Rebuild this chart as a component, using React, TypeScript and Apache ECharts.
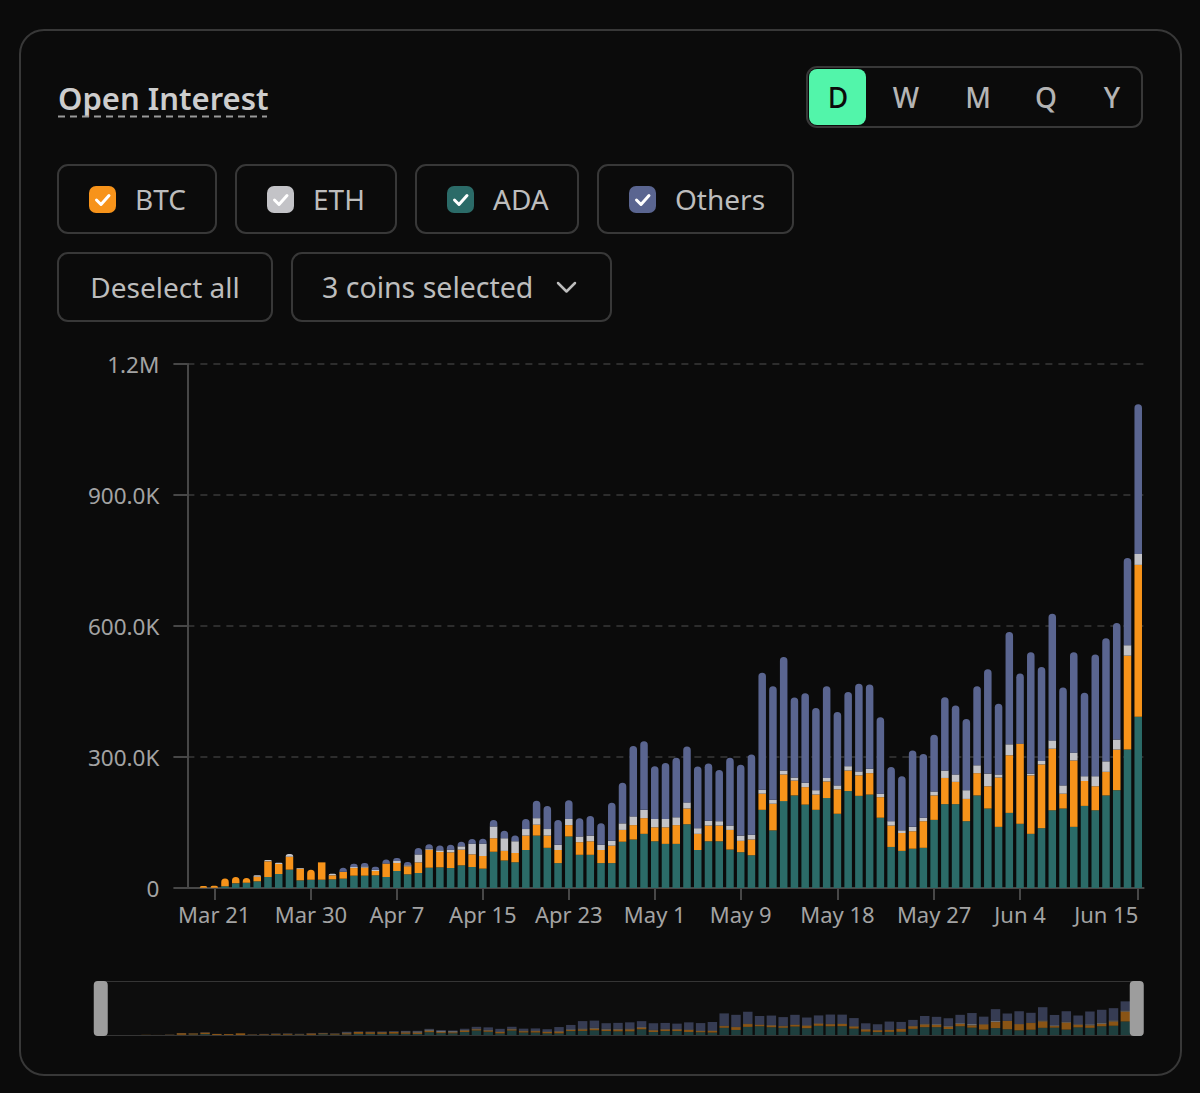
import { useEffect, useRef } from "react";
import * as echarts from "echarts";

// ---------- data ----------
const MONTHS = ["Jan", "Feb", "Mar", "Apr", "May", "Jun", "Jul", "Aug", "Sep", "Oct", "Nov", "Dec"];
const START_DATE = Date.UTC(2024, 2, 19);
const DAY_COUNT = 89;
const DATES: string[] = Array.from({ length: DAY_COUNT }, (_, i) => {
  const d = new Date(START_DATE + i * 86400000);
  return `${MONTHS[d.getUTCMonth()]} ${d.getUTCDate()}`;
});

const TICK_LABELS = ["Mar 21", "Mar 30", "Apr 7", "Apr 15", "Apr 23", "May 1", "May 9", "May 18", "May 27", "Jun 4", "Jun 15"];

// values in thousands, Mar 19 .. Jun 15
const ADA = [
  0, 0.5, 0.5, 4, 10.7, 12.2, 15.3, 25.2, 32, 42, 17.5, 19, 19,
  19.8, 21.4, 28.2, 28.2, 29, 25.2, 38.9, 31.3, 34.3, 46.5, 47.3, 45.8, 51.9, 48.1, 44.3, 83, 63, 59, 87, 120, 92, 57, 118, 76, 76, 57, 57, 106, 111, 124,
  107, 101, 101, 146, 87, 107, 107, 88, 82, 75, 179, 132, 199, 212, 191, 179, 206, 170, 222, 211, 214, 161, 94, 85, 90, 92, 156, 192, 192, 153, 212,
  182, 140, 172, 147, 124, 137, 178, 182, 140, 188, 178, 212, 224, 317, 392,
];
const BTC = [
  0, 4, 4.5, 17.5, 14.5, 10.7, 10.7, 35.9, 22.9, 29.8, 26.7, 22.9, 39.7,
  9.2, 15.3, 17.5, 18.3, 9.9, 30.5, 18.3, 18.3, 24.4, 41.2, 35.1, 35.9, 35.9, 29, 29, 31, 22, 21, 33, 25, 28, 30, 26, 29, 31, 30, 40, 27, 33, 36,
  32, 38, 43, 36, 37, 36, 36, 45, 26, 36, 37, 61, 61, 34, 40, 35, 38, 56, 47, 47, 49, 47, 49, 41, 40, 61, 56, 60, 51, 51, 51,
  51, 113, 132, 183, 134, 146, 141, 34, 152, 57, 55, 54, 93, 215, 348,
];
const ETH = [
  0, 0, 0, 0, 0, 0, 3, 3, 3, 6.1, 1.5, 0, 0.5,
  3.8, 0.5, 2.3, 3, 3, 0.5, 4.6, 2.3, 18.3, 2, 3.8, 6.1, 7.6, 24.4, 28.2, 27, 29, 27, 15, 15, 15, 12, 14, 13, 13, 12, 11, 15, 20, 19,
  19, 19, 18, 14, 13, 11, 10, 10, 12, 11, 9, 9, 9, 7, 10, 10, 8, 9, 10, 9, 10, 8, 10, 6, 10, 8, 9, 17, 17, 20, 18,
  29, 7, 25, 1, 4, 8, 19, 19, 18, 11, 23, 24, 23, 24, 25,
];
const OTHERS = [
  0, 0, 0, 0, 0, 0, 0, 0, 0, 0, 0, 0, 0,
  0, 9.2, 7.6, 7.6, 6.9, 9.2, 6.9, 7.6, 14.5, 10.7, 11.4, 11.4, 10.7, 10.7, 11.4, 15, 17, 13, 23, 40, 53, 57, 43, 42, 45, 49, 87, 93, 161, 157,
  121, 128, 136, 128, 141, 131, 117, 155, 162, 184, 268, 260, 260, 183, 205, 188, 210, 168, 170, 201, 193, 175, 124, 124, 175, 146, 130, 168, 158, 163, 181,
  239, 162, 257, 160, 278, 215, 290, 224, 230, 191, 279, 282, 267, 200, 343,
];

const COINS = ["BTC", "ETH", "ADA", "Others"];
const PERIODS = ["D", "W", "M", "Q", "Y"];

// ---------- styles ----------
const FONT = "'Noto Sans', 'DejaVu Sans', sans-serif";
const BG = "#0b0b0b";
const BORDER = "#383838";
const AXIS = "#474747";
const LABEL = "#a3a3a3";
const BTN_TEXT = "#bdbdbd";
const COLOR: Record<string, string> = {
  ADA: "#2b6b68",
  BTC: "#f7931a",
  ETH: "#c3c3c7",
  Others: "#5a6590",
};

const STACK = [
  { name: "ADA", data: ADA },
  { name: "BTC", data: BTC },
  { name: "ETH", data: ETH },
  { name: "Others", data: OTHERS },
];

function fmtY(v: number) {
  if (v === 0) return "0";
  if (v >= 1e6) return (v / 1e6).toFixed(1) + "M";
  return (v / 1e3).toFixed(1) + "K";
}

function text(t: string, x: number, y: number, size: number, fill: string, align = "left", weight: number | string = 400) {
  return {
    type: "text",
    x,
    y,
    silent: true,
    style: {
      text: t,
      fill,
      fontSize: size,
      fontFamily: FONT,
      fontWeight: weight,
      align,
      verticalAlign: "middle",
      textAlign: align,
      textVerticalAlign: "middle",
    },
  };
}

function box(x: number, y: number, w: number, h: number, r: number, stroke = BORDER, fill = "none", lw = 2) {
  return { type: "rect", silent: true, shape: { x, y, width: w, height: h, r }, style: { fill, stroke, lineWidth: lw } };
}

function checkbox(x: number, y: number, color: string) {
  return [
    { type: "rect", silent: true, shape: { x, y, width: 27, height: 27, r: 7 }, style: { fill: color } },
    {
      type: "polyline",
      silent: true,
      shape: { points: [[x + 7.5, y + 14], [x + 12, y + 18.5], [x + 20, y + 9.5]] },
      style: { stroke: "#ffffff", fill: "none", lineWidth: 3, lineCap: "round", lineJoin: "round" },
    },
  ];
}

function buildGraphics() {
  const g: any[] = [];
  // card
  g.push(box(20, 30, 1161, 1045, 24, BORDER, "none", 2));
  // title
  g.push(text("Open Interest", 58, 98, 31, "#cdcdcd", "left", 600));
  g.push({
    type: "line",
    silent: true,
    shape: { x1: 58, y1: 116.5, x2: 267, y2: 116.5 },
    style: { stroke: "#9a9a9a", lineWidth: 2, lineDash: [7, 5] },
  });
  // period selector
  g.push(box(807, 67, 335, 60, 10));
  g.push({ type: "rect", silent: true, shape: { x: 809, y: 69, width: 57, height: 56, r: 8 }, style: { fill: "#52f5aa" } });
  const periodX = [838, 906, 978, 1046, 1112];
  PERIODS.forEach((p, i) => g.push(text(p, periodX[i], 97, 28, i === 0 ? "#0b0b0b" : "#b4b4b4", "center", 500)));
  // coin toggles
  const btn = [
    { x: 58, w: 158 },
    { x: 236, w: 160 },
    { x: 416, w: 162 },
    { x: 598, w: 195 },
  ];
  COINS.forEach((c, i) => {
    const b = btn[i];
    g.push(box(b.x, 165, b.w, 68, 10));
    checkbox(b.x + 31, 186, COLOR[c]).forEach((e) => g.push(e));
    g.push(text(c, b.x + 77, 199, 28, BTN_TEXT));
  });
  // second row
  g.push(box(58, 253, 214, 68, 10));
  g.push(text("Deselect all", 165, 287, 28, BTN_TEXT, "center"));
  g.push(box(292, 253, 319, 68, 10));
  g.push(text("3 coins selected", 322, 287, 28.5, BTN_TEXT));
  g.push({
    type: "polyline",
    silent: true,
    shape: { points: [[558, 283], [566.5, 291.5], [575, 283]] },
    style: { stroke: "#bdbdbd", fill: "none", lineWidth: 2.5, lineCap: "round", lineJoin: "round" },
  });
  return g;
}

function buildOption() {
  const topIdx = DATES.map((_, i) => {
    let t = -1;
    STACK.forEach((s, k) => {
      if (s.data[i] > 0) t = k;
    });
    return t;
  });

  const mainSeries = STACK.map((s, k) => ({
    type: "bar",
    name: s.name,
    stack: "main",
    xAxisIndex: 0,
    yAxisIndex: 0,
    barWidth: "70%",
    silent: true,
    itemStyle: { color: COLOR[s.name] },
    data: s.data.map((v, i) =>
      topIdx[i] === k ? { value: v * 1000, itemStyle: { borderRadius: [4, 4, 0, 0] } } : v * 1000
    ),
  }));

  const miniSeries = STACK.map((s) => ({
    type: "bar",
    name: s.name + "-mini",
    stack: "mini",
    xAxisIndex: 1,
    yAxisIndex: 1,
    barWidth: "80%",
    silent: true,
    itemStyle: { color: COLOR[s.name], opacity: 0.72 },
    data: s.data.map((v) => v * 1000),
  }));

  const showLabel = (_i: number, v: string) => TICK_LABELS.includes(v);

  return {
    animation: false,
    backgroundColor: BG,
    graphic: { elements: buildGraphics() },
    grid: [
      { left: 187.4, top: 364, width: 956.2, height: 524, outerBoundsMode: "none", containLabel: false },
      { left: 93, top: 981, width: 1050, height: 55, outerBoundsMode: "none", containLabel: false },
    ],
    xAxis: [
      {
        type: "category",
        gridIndex: 0,
        data: DATES,
        boundaryGap: true,
        axisLine: { show: true, lineStyle: { color: AXIS, width: 2 } },
        axisTick: { show: true, alignWithLabel: true, interval: showLabel, length: 12, lineStyle: { color: AXIS, width: 2 } },
        axisLabel: {
          interval: showLabel,
          color: LABEL,
          fontSize: 22,
          fontFamily: FONT,
          margin: 15,
          alignMaxLabel: "right",
        },
        splitLine: { show: false },
      },
      { type: "category", gridIndex: 1, data: DATES, boundaryGap: true, show: false },
    ],
    yAxis: [
      {
        type: "value",
        gridIndex: 0,
        min: 0,
        max: 1200000,
        interval: 300000,
        axisLine: { show: true, lineStyle: { color: AXIS, width: 2 } },
        axisTick: { show: true, length: 14, lineStyle: { color: AXIS, width: 2 } },
        axisLabel: { color: LABEL, fontSize: 22.5, fontFamily: FONT, margin: 28, formatter: fmtY },
        splitLine: { show: true, lineStyle: { color: "#3a3a3a", width: 1.5, type: [7, 6] } },
      },
      { type: "value", gridIndex: 1, min: 0, max: 1200000, show: false },
    ],
    dataZoom: [
      {
        type: "slider",
        xAxisIndex: 0,
        left: 99.5,
        top: 981,
        width: 1038,
        height: 55,
        start: 0,
        end: 100,
        showDataShadow: false,
        showDetail: false,
        brushSelect: false,
        backgroundColor: "rgba(255,255,255,0.03)",
        borderColor: "#353535",
        fillerColor: "rgba(0,0,0,0.25)",
        handleIcon: "path://M4 0H10A4 4 0 0 1 14 4V51A4 4 0 0 1 10 55H4A4 4 0 0 1 0 51V4A4 4 0 0 1 4 0Z",
        handleSize: "100%",
        handleStyle: { color: "#9d9d9d", borderColor: "#9d9d9d", borderWidth: 0 },
        moveHandleSize: 0,
        moveHandleStyle: { opacity: 0 },
        emphasis: {
          handleStyle: { color: "#9d9d9d", borderColor: "#9d9d9d" },
          moveHandleStyle: { opacity: 0 },
        },
        dataBackground: { lineStyle: { opacity: 0 }, areaStyle: { opacity: 0 } },
        selectedDataBackground: { lineStyle: { opacity: 0 }, areaStyle: { opacity: 0 } },
      },
    ],
    series: [...mainSeries, ...miniSeries],
  };
}

export default function App() {
  const ref = useRef<HTMLDivElement | null>(null);
  useEffect(() => {
    if (!ref.current) return;
    const chart = echarts.init(ref.current, undefined, { renderer: "svg", width: 1200, height: 1093 });
    chart.setOption(buildOption() as any);
    return () => chart.dispose();
  }, []);
  return (
    <div
      style={{ position: "fixed", left: 0, top: 0, width: 1200, height: 1093, background: BG, overflow: "hidden" }}
    >
      <div ref={ref} style={{ width: 1200, height: 1093 }} />
    </div>
  );
}
